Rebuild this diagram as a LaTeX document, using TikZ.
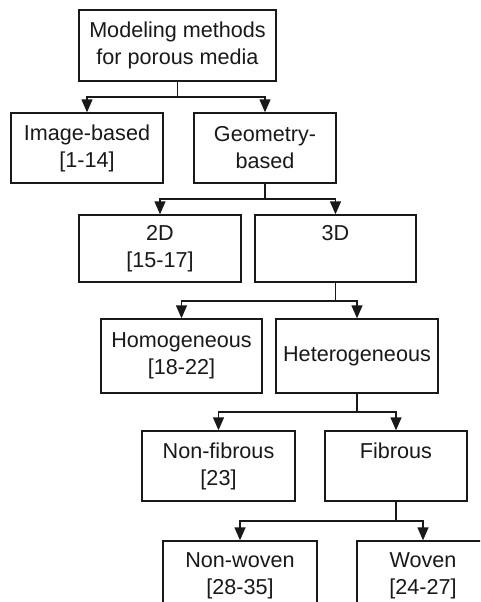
\documentclass[tikz,border=0pt]{standalone}
\usepackage{fontspec}
\setmainfont{Liberation Sans}
\usetikzlibrary{arrows.meta}
\begin{document}
\begin{tikzpicture}[x=1pt,y=-1pt,
  box/.style={draw=black!90, line width=1.4pt, rectangle, inner sep=0pt, align=center,
    font=\fontsize{21.6}{27}\selectfont, text=black!90},
  link/.style={line width=1.4pt, draw=black!90},
  arr/.style={link, -{Triangle[width=11pt,length=13pt]}}]
\useasboundingbox (0,0) rectangle (480,602);
\clip (0,0) rectangle (480,602);
\fill[white] (0,0) rectangle (480,602);
\node[box, minimum width=197pt, minimum height=71pt] (top) at (177.5,45.5) {Modeling methods\\for porous media};
\node[box, minimum width=152pt, minimum height=70pt] (img) at (87,148) {Image-based\\{[1-14]}};
\node[box, minimum width=142pt, minimum height=70pt] (geo) at (265,148) {Geometry-\\based};
\node[box, minimum width=162pt, minimum height=67pt] (d2) at (160,248.5) {2D\\{[15-17]}};
\node[box, minimum width=161pt, minimum height=67pt] (d3) at (335.5,248.5) {3D\\\phantom{[15-17]}};
\node[box, minimum width=161pt, minimum height=74pt] (hom) at (181.5,356) {Homogeneous\\{[18-22]}};
\node[box, minimum width=162pt, minimum height=74pt] (het) at (357,356) {Heterogeneous};
\node[box, minimum width=153pt, minimum height=70pt] (nfib) at (218.5,466) {Non-fibrous\\{[23]}};
\node[box, minimum width=142pt, minimum height=70pt] (fib) at (396,466) {Fibrous\\\phantom{[23]}};
\node[box, minimum width=154pt, minimum height=70pt] (nw) at (240,576) {Non-woven\\{[28-35]}};
\node[box, minimum width=132pt, minimum height=70pt] (wov) at (423,576) {Woven\\{[24-27]}};
\coordinate (j1) at (177.5,97);
\coordinate (j2) at (265,199);
\coordinate (j3) at (335.5,301);
\coordinate (j4) at (357,412);
\coordinate (j5) at (396,521);
\draw[link] (top.south) -- (j1);
\draw[arr] (j1) -| (img.north);
\draw[arr] (j1) -| (geo.north);
\draw[link] (geo.south) -- (j2);
\draw[arr] (j2) -| (d2.north);
\draw[arr] (j2) -| (d3.north);
\draw[link] (d3.south) -- (j3);
\draw[arr] (j3) -| (hom.north);
\draw[arr] (j3) -| (het.north);
\draw[link] (het.south) -- (j4);
\draw[arr] (j4) -| (nfib.north);
\draw[arr] (j4) -| (fib.north);
\draw[link] (fib.south) -- (j5);
\draw[arr] (j5) -| (nw.north);
\draw[arr] (j5) -| (wov.north);
\end{tikzpicture}
\end{document}
